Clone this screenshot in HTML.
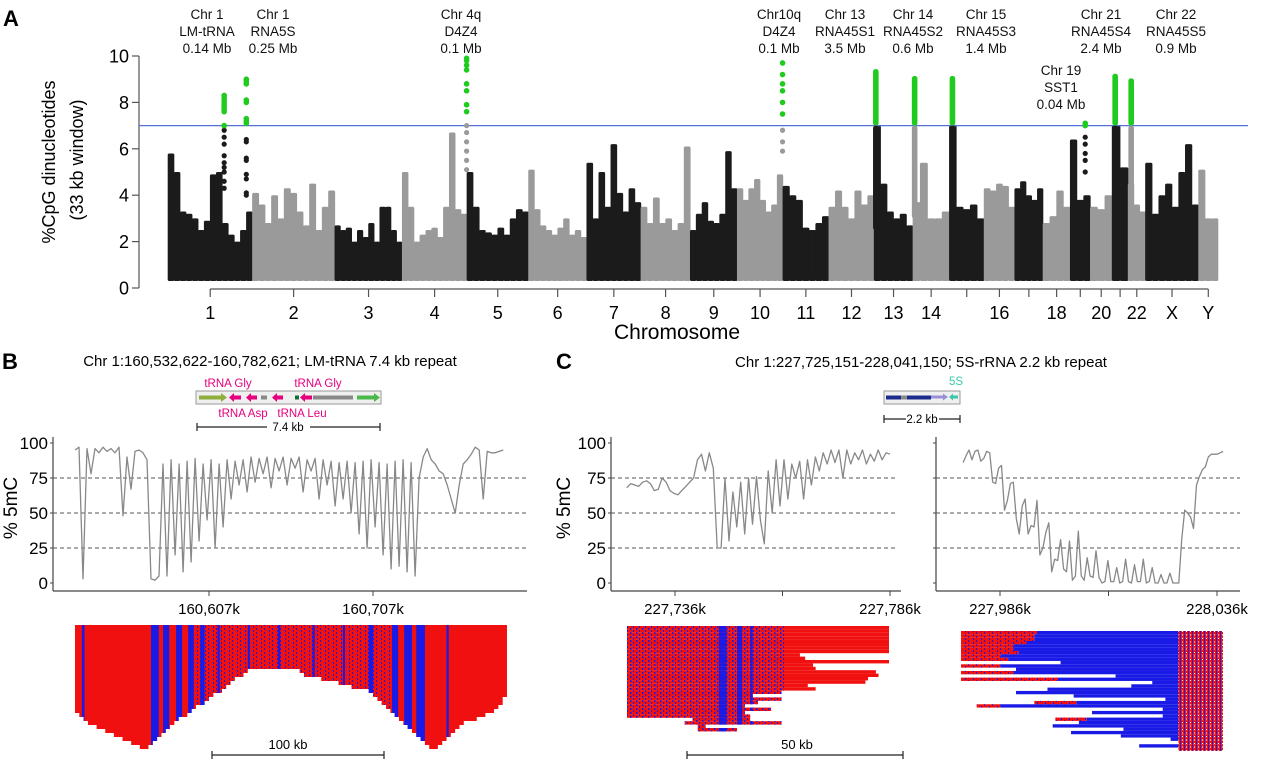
<!DOCTYPE html>
<html><head><meta charset="utf-8">
<style>
html,body{margin:0;padding:0;background:#fff;}
svg{display:block;font-family:"Liberation Sans",Arial,sans-serif;}
</style></head>
<body>
<svg id="fig" width="1280" height="767" viewBox="0 0 1280 767" xmlns="http://www.w3.org/2000/svg">
<defs>
<pattern id="speck" width="6" height="4" patternUnits="userSpaceOnUse"><rect x="0" y="0" width="1.5" height="2" fill="#1a1ae6"/><rect x="3" y="2" width="1" height="2" fill="#1a1ae6"/></pattern>
<pattern id="speck2" width="8" height="4" patternUnits="userSpaceOnUse"><rect x="0" y="0" width="1" height="2" fill="#1a1ae6"/><rect x="5" y="2" width="1" height="2" fill="#1a1ae6"/></pattern>
<pattern id="strip" width="4" height="3.5" patternUnits="userSpaceOnUse"><rect x="0" y="0" width="1" height="3.5" fill="#1a1ae6"/><rect x="2" y="1" width="1" height="1" fill="#fff"/></pattern>
</defs>

<!-- Panel A static -->
<text x="3" y="26" font-size="22" font-weight="bold">A</text>
<g font-size="18" text-anchor="middle">
<text transform="translate(55,162) rotate(-90)">%CpG dinucleotides</text>
<text transform="translate(83,160) rotate(-90)">(33 kb window)</text>
</g>
<text x="677" y="339" font-size="21" text-anchor="middle">Chromosome</text>
<g font-size="13.5" text-anchor="middle" fill="#111">
<g><text x="207" y="19">Chr 1</text><text x="207" y="36">LM-tRNA</text><text x="207" y="53">0.14 Mb</text></g>
<g><text x="273" y="19">Chr 1</text><text x="273" y="36">RNA5S</text><text x="273" y="53">0.25 Mb</text></g>
<g><text x="461" y="19">Chr 4q</text><text x="461" y="36">D4Z4</text><text x="461" y="53">0.1 Mb</text></g>
<g><text x="779" y="19">Chr10q</text><text x="779" y="36">D4Z4</text><text x="779" y="53">0.1 Mb</text></g>
<g><text x="845" y="19">Chr 13</text><text x="845" y="36">RNA45S1</text><text x="845" y="53">3.5 Mb</text></g>
<g><text x="913" y="19">Chr 14</text><text x="913" y="36">RNA45S2</text><text x="913" y="53">0.6 Mb</text></g>
<g><text x="986" y="19">Chr 15</text><text x="986" y="36">RNA45S3</text><text x="986" y="53">1.4 Mb</text></g>
<g><text x="1061" y="75">Chr 19</text><text x="1061" y="92">SST1</text><text x="1061" y="109">0.04 Mb</text></g>
<g><text x="1101" y="19">Chr 21</text><text x="1101" y="36">RNA45S4</text><text x="1101" y="53">2.4 Mb</text></g>
<g><text x="1176" y="19">Chr 22</text><text x="1176" y="36">RNA45S5</text><text x="1176" y="53">0.9 Mb</text></g>
</g>
<g id="gA"></g>

<!-- Panel B static -->
<text x="2" y="369" font-size="22" font-weight="bold">B</text>
<text x="270" y="366" font-size="15" text-anchor="middle">Chr 1:160,532,622-160,782,621;  LM-tRNA 7.4 kb repeat</text>
<g>
<rect x="196" y="391" width="185" height="13" fill="#efefef" stroke="#999" stroke-width="1"/>
<path d="M199 395.5h22v-2.5l6 4.5-6 4.5v-2.5h-22z" fill="#8fae3c"/>
<path d="M241 395.5h-7v-2.5l-5 4.5 5 4.5v-2.5h7z" fill="#e6007e"/>
<path d="M257 395.5h-6v-2.5l-5 4.5 5 4.5v-2.5h6z" fill="#e6007e"/>
<rect x="261" y="395.5" width="6" height="4" fill="#888"/>
<path d="M283 395.5h-6v-2.5l-5 4.5 5 4.5v-2.5h6z" fill="#e6007e"/>
<rect x="295" y="395.5" width="4" height="4" fill="#126b3a"/>
<path d="M312 395.5h-7v-2.5l-5 4.5 5 4.5v-2.5h7z" fill="#e6007e"/>
<rect x="313" y="395.5" width="40" height="4" fill="#888"/>
<path d="M357 395.5h17v-2.5l6 4.5-6 4.5v-2.5h-17z" fill="#4cb84c"/>
<g font-size="11.5" fill="#e6007e" text-anchor="middle"><text x="228" y="387">tRNA Gly</text><text x="318" y="387">tRNA Gly</text><text x="243" y="417">tRNA Asp</text><text x="302" y="417">tRNA Leu</text></g>
<path d="M197 427h70M310 427h70M197 423v8M380 423v8" stroke="#222" stroke-width="1.2"/>
<text x="288" y="431" font-size="11.5" text-anchor="middle">7.4 kb</text>
</g>
<text transform="translate(17,508) rotate(-90)" font-size="19" text-anchor="middle">% 5mC</text>
<g id="gB"></g>
<g>
<path d="M212 755h172M212 751v8M384 751v8" stroke="#222" stroke-width="1.2"/>
<text x="288" y="749" font-size="13" text-anchor="middle">100 kb</text>
</g>

<!-- Panel C static -->
<text x="556" y="369" font-size="22" font-weight="bold">C</text>
<text x="921" y="367" font-size="15" text-anchor="middle">Chr 1:227,725,151-228,041,150; 5S-rRNA 2.2 kb repeat</text>
<g>
<rect x="884" y="391" width="76" height="13" fill="#efefef" stroke="#999" stroke-width="1"/>
<rect x="886" y="395.5" width="45" height="4" fill="#1c2c8c"/>
<rect x="901" y="395.5" width="6" height="4" fill="#888"/>
<path d="M931 395.5h12v-2l5 3.5-5 3.5v-2h-12z" fill="#9b8fd6"/>
<path d="M958 395.5h-5v-2l-4 3.5 4 3.5v-2h5z" fill="#3cc8a8"/>
<text x="956" y="385" font-size="11.5" fill="#3cc8a8" text-anchor="middle">5S</text>
<path d="M884 419h22M939 419h21M884 415v8M960 415v8" stroke="#222" stroke-width="1.2"/>
<text x="922" y="423" font-size="11.5" text-anchor="middle">2.2 kb</text>
</g>
<text transform="translate(570,508) rotate(-90)" font-size="19" text-anchor="middle">% 5mC</text>
<g id="gC"></g>
<g>
<path d="M687 755h216M687 751v8M903 751v8" stroke="#222" stroke-width="1.2"/>
<text x="797" y="749" font-size="13" text-anchor="middle">50 kb</text>
</g>
</svg>

<script>
// ---------------- Panel A data ----------------
const chromNames=["1","2","3","4","5","6","7","8","9","10","11","12","13","14","15","16","17","18","19","20","21","22","X","Y"];
const chromTickLabels=["1","2","3","4","5","6","7","8","9","10","11","12","13","14","","16","","18","","20","","22","X","Y"];
const chromLenMb=[248,242,198,190,181,171,159,145,138,134,135,133,114,107,102,90,83,80,59,64,47,51,156,57];
const chromHeights=[
[5.8,5.0,3.3,3.2,3.0,2.5,2.9,4.9,5.0,2.8,2.3,2.0,2.5,3.3],
[4.1,3.6,2.8,4.0,3.0,4.3,4.1,3.3,2.7,4.5,2.5,3.5,4.2],
[2.7,2.5,2.6,2.0,2.5,2.2,2.8,2.0,3.5,3.5,2.5,2.0],
[5.0,3.5,2.0,2.3,2.5,2.6,2.2,3.5,6.7,3.4,3.2],
[5.0,3.5,2.5,2.4,2.3,2.6,2.3,3.0,3.4,3.3],
[5.1,3.4,2.7,2.5,2.3,2.6,3.0,2.3,2.5,2.2],
[5.4,3.0,5.0,3.5,6.2,4.1,3.3,4.3,3.7],
[3.5,2.8,3.9,2.8,3.0,2.5,2.8,6.1],
[2.5,3.2,3.7,2.9,2.8,3.2,5.9,4.3],
[4.3,3.8,4.3,4.7,3.8,3.3,3.6,4.9],
[4.4,4.0,3.8,2.6,2.5,2.8,3.1],
[3.5,4.2,3.5,3.0,4.2,3.6,4.0],
[7.0,4.5,3.3,3.0,3.2,2.7],
[3.7,5.4,3.0,3.0,3.3],
[7.0,3.5,3.4,3.6,3.0],
[4.3,4.2,4.5,4.4,3.5],
[4.3,4.6,4.0,3.8,4.3],
[2.8,3.1,4.2,3.5],
[6.4,3.8,4.0],
[3.5,3.4,4.0],
[7.0,5.2],
[4.5,3.6,3.3],
[5.4,3.2,4.0,4.5,3.5,5.0,6.2,3.6],
[5.1,3.0,3.0]];
const yTicksA=[0,2,4,6,8,10];
const thresholdA=7;
const repeatChrom=[0,0,3,9,12,13,14,18,20,21];
const repeatPosMb=[165,230,189,133,5,5,9,44,9,9];
const repeatTop=[8.3,9.0,9.9,9.7,9.35,9.05,9.05,7.1,9.15,8.95];
const repeatStemLow=[4.3,4.0,5.0,5.5,2.5,3.0,3.0,4.5,2.5,3.0];
const repeatSolid=[0,0,0,0,1,1,1,0,1,1];
const repeatGreenDots=[[7.0,7.6,7.7,7.8,7.9,8.0,8.1,8.2,8.3],[7.1,7.2,7.3,8.0,8.1,8.8,8.9,9.0],[7.6,7.9,8.5,8.8,9.4,9.6,9.8,9.9],[7.5,8.0,8.5,8.8,9.2,9.7],[],[],[],[7.0,7.1],[],[]];
const repeatStemDots=[[6.8,6.5,6.2,5.7,5.4,5.2,5.0,4.6,4.3],[6.4,6.3,5.6,5.5,4.9,4.7,4.1,4.0],[7.0,6.7,6.3,5.9,5.5,5.1],[6.8,6.3,5.9],[],[],[],[6.5,6.2,5.8,5.5,5.0],[],[]];

// ---------------- Panel B/C data ----------------
const yTicksM=[0,25,50,75,100];
const bStartKb=525.3, bStepKb=2.44;
const bValues=[95,97,3,96,78,96,93,97,94,96,93,97,48,90,67,94,95,93,88,3,2,5,85,5,88,20,85,8,87,15,89,30,85,45,88,25,85,40,88,60,87,70,88,65,90,72,89,78,90,68,89,80,90,70,89,82,90,65,88,80,89,60,88,70,87,55,86,60,87,50,86,35,87,25,88,40,86,20,85,10,87,12,88,8,86,5,75,90,96,88,85,80,78,70,60,50,70,85,88,92,97,95,60,94,93,93,94,95];
const bTickKb=[607,707];
const bTickLabels=["160,607k","160,707k"];
const cLeftStartKb=724.8, cLeftEndKb=786;
const cLeftValues=[68,71,70,69,72,73,71,66,67,75,72,66,64,63,66,69,72,75,88,92,80,93,82,25,25,75,30,65,40,72,35,75,42,76,45,28,80,50,88,55,88,60,85,75,87,60,88,70,90,80,93,85,95,86,95,75,95,85,93,88,95,85,92,87,95,88,93,92];
const cLeftTickKb=[736,761,786];
const cLeftTickLabels=["227,736k","","227,786k"];
const cRightStartKb=977.5, cRightEndKb=1037.4;
const cRightValues=[86,91,95,88,94,95,87,89,94,93,72,71,82,84,52,59,71,72,46,35,55,60,35,41,40,59,20,25,36,43,8,17,16,31,10,8,30,2,5,37,5,2,18,5,4,23,4,0,1,16,1,1,11,0,1,17,1,0,13,1,1,17,0,1,11,0,0,6,0,0,7,0,0,0,31,52,50,47,39,70,76,81,83,90,92,92,92,93,94];
const cRightTickKb=[986,1011,1036];
const cRightTickLabels=["227,986k","","228,036k"];

// heatmap rows
const hbRows=[[0,.5,.5,1],[0,.5,.5,1],[0,.5,.5,1],[0,.5,.5,1],[0,.5,.5,1],[0,.5,.5,1],[0,.5,.5,1],[0,.5,.5,1],[0,.5,.5,1],[0,.5,.5,1],[0,.5,.5,1],
[0,.40,.52,1],[0,.39,.53,1],[0,.37,.57,1],[0,.36,.61,1],[0,.35,.64,1],[0,.34,.68,1],[0,.32,.69,1],[0,.31,.70,.99],[0,.30,.71,.99],[0,.28,.72,.98],[0,.27,.73,.97],[.01,.26,.74,.95],[.02,.24,.75,.93],[.03,.23,.76,.90],[.05,.22,.77,.89],[.07,.21,.78,.88],[.09,.20,.79,.87],[.11,.19,.80,.86],[.13,.18,.81,.85],[.15,.17,.82,.84]];
const hbBlue=[[.016,.022],[.176,.194],[.204,.218],[.234,.248],[.262,.275],[.29,.30],[.33,.335],[.40,.405],[.47,.475],[.55,.555],[.62,.625],[.68,.69],[.734,.748],[.762,.78],[.79,.81],[.86,.865]];
const hbSpeck=[[.28,.74]];
const hcLRows=[[0,1],[0,1],[0,1],[0,1],[0,1],[0,1],[0,1],[0,1],[0,.66],[0,.68],[0,1],[0,.71],[0,.72],[0,.95],[0,.96],[0,.92],[0,.91],[0,.69],[0,.72],[0,.59],[0,.48],[0,.59],[0,.50],[0,.45],[0,.55],[0,.45],[0,.47],[.25,.47],[.22,.59],[.27,.30],[.27,.42]];
const hcLBlue=[[.35,.38],[.42,.44],[.47,.48]];
const hcLSpeck=[[0,.33],[.33,.6]];
const hcRRows=[[0,.29],[0,.28],[0,.28],[0,.25],[0,.20],[0,.20],[0,.22],[0,.15],[0,.18],[.38,.38],[0,.15],[.21,.21],[0,.20],[.59,.59],[0,.37],[.73,.73],[.65,.65],[.33,.33],[.21,.21],[.43,.43],[.78,.78],[.28,.44],[.06,.15],[.77,.77],[.50,.50],[.77,.77],[.36,.48],[.45,.45],[.35,.35],[.62,.62],[.42,.42],[.61,.61],[.80,.80],[.84,.84],[.68,.68],[.83,.83]];
const hcRStripStart=.83;

// ---------------- helpers ----------------
const NS="http://www.w3.org/2000/svg";
function mk(tag,attrs,parent){const e=document.createElementNS(NS,tag);for(const k in attrs)e.setAttribute(k,attrs[k]);parent.appendChild(e);return e;}
const gA=document.getElementById('gA'),gB=document.getElementById('gB'),gC=document.getElementById('gC');
const BLACK="#1b1b1b",GRAY="#9a9a9a",GREEN="#1ecb1e",RED="#f01010",BLUE="#1a1ae6";

// ---------------- Panel A ----------------
const totalMb=chromLenMb.reduce((a,b)=>a+b,0);
const aX0=168,aX1=1218;
const mbScale=(aX1-aX0)/totalMb;
const cumMb=[];let acc=0;for(const L of chromLenMb){cumMb.push(acc);acc+=L;}
function xA(c,mb){return aX0+(cumMb[c]+mb)*mbScale;}
function yA(v){return 288-v*23.2;}
function chromColor(c){return c%2===0?BLACK:GRAY;}

let ax=mk('line',{x1:139,y1:yA(10),x2:139,y2:yA(0),stroke:'#555','stroke-width':1.2},gA);


for(const t of yTicksA){
  const tk=mk('line',{x1:132,y1:yA(t),x2:139,y2:yA(t),stroke:'#555','stroke-width':1.2},gA);
  
  
  const tl=mk('text',{x:129,y:yA(t)+6.5,'font-size':18,'text-anchor':'end'},gA);
  tl.textContent=String(t);
  
  
}
chromHeights.forEach((hs,c)=>{
  const w=chromLenMb[c]/hs.length;
  hs.forEach((h,i)=>{
    const x1=xA(c,i*w),x2=xA(c,(i+1)*w);
    const r=mk('rect',{x:x1-0.3,y:yA(h),width:x2-x1+0.6,height:yA(0.3)-yA(h),fill:chromColor(c),rx:1.5},gA);
    
    
  });
});
const th=mk('line',{x1:139,y1:yA(thresholdA),x2:1248,y2:yA(thresholdA),stroke:'#5470d6','stroke-width':1.2},gA);


repeatChrom.forEach((c,k)=>{
  const x=xA(c,repeatPosMb[k]);
  const col=chromColor(c);
  if(repeatSolid[k]){
    const s=mk('rect',{x:x-2.8,y:yA(thresholdA),width:5.6,height:yA(repeatStemLow[k])-yA(thresholdA),fill:col,rx:2.5},gA);
    
    
    const g=mk('rect',{x:x-2.8,y:yA(repeatTop[k])-2,width:5.6,height:yA(thresholdA)-yA(repeatTop[k])+2,fill:GREEN,rx:2.5},gA);
    
    
  }
  repeatStemDots[k].forEach(v=>{
    const d=mk('circle',{cx:x,cy:yA(v),r:2.6,fill:col},gA);
    
    
  });
  repeatGreenDots[k].forEach(v=>{
    const d=mk('circle',{cx:x,cy:yA(v),r:2.8,fill:GREEN},gA);
    
    
  });
});
const xa=mk('line',{x1:xA(0,chromLenMb[0]/2),y1:289,x2:xA(23,chromLenMb[23]/2),y2:289,stroke:'#555','stroke-width':1.2},gA);


chromLenMb.forEach((L,c)=>{
  const x=xA(c,L/2);
  const tk=mk('line',{x1:x,y1:289,x2:x,y2:297,stroke:'#555','stroke-width':1.2},gA);
  
  
  if(chromTickLabels[c]){
    const tl=mk('text',{x:x,y:319,'font-size':18,'text-anchor':'middle'},gA);
    tl.textContent=chromTickLabels[c];
    
    
  }
});

// ---------------- Methylation plots ----------------
function yM(v){return 583-v*1.40;}
function methPlot(g,axX,axEnd,gridEnd,showLabels,xOf,startKb,stepKb,vals,tickKb,tickLabels,name){
  const a=mk('line',{x1:axX,y1:437,x2:axX,y2:591,stroke:'#444','stroke-width':1.2},g);
  
  
  const b=mk('line',{x1:axX,y1:591,x2:axEnd,y2:591,stroke:'#444','stroke-width':1.2},g);
  
  
  for(const t of yTicksM){
    const tk=mk('line',{x1:axX-3,y1:yM(t),x2:axX,y2:yM(t),stroke:'#444','stroke-width':1},g);
    
    
    if(t>0&&t<100){
      const gl=mk('line',{x1:axX,y1:yM(t),x2:gridEnd,y2:yM(t),stroke:'#555','stroke-width':1,'stroke-dasharray':'4,3'},g);
      
      
    }
    if(showLabels){
      const tl=mk('text',{x:axX-5,y:yM(t)+6,'font-size':17,'text-anchor':'end'},g);
      tl.textContent=String(t);
      
      
    }
  }
  tickKb.forEach((k,i)=>{
    const x=xOf(k);
    const tk=mk('line',{x1:x,y1:591,x2:x,y2:596,stroke:'#444','stroke-width':1},g);
    
    
    if(tickLabels[i]){
      const tl=mk('text',{x:x,y:614,'font-size':15,'text-anchor':'middle'},g);
      tl.textContent=tickLabels[i];
      
      
    }
  });
  const pts=vals.map((v,i)=>xOf(startKb+i*stepKb).toFixed(1)+','+yM(v).toFixed(1)).join(' ');
  const pl=mk('polyline',{points:pts,fill:'none',stroke:'#888','stroke-width':1.3,'stroke-linejoin':'round'},g);
  
  
}
methPlot(gB,53,527,527,true,kb=>209+(kb-607)*1.64,bStartKb,bStepKb,bValues,bTickKb,bTickLabels,'plot-b');
methPlot(gC,611,901,896,true,kb=>675+(kb-736)*4.3,cLeftStartKb,(cLeftEndKb-cLeftStartKb)/(cLeftValues.length-1),cLeftValues,cLeftTickKb,cLeftTickLabels,'plot-c-left');
methPlot(gC,936,1240,1240,false,kb=>1000+(kb-986)*4.34,cRightStartKb,(cRightEndKb-cRightStartKb)/(cRightValues.length-1),cRightValues,cRightTickKb,cRightTickLabels,'plot-c-right');

// ---------------- Heatmaps ----------------
function overlap(a,b,c,d){const s=Math.max(a,c),e=Math.min(b,d);return e>s?[s,e]:null;}
function drawSeg(g,X0,W,y,h,s,e,blue,speck,name,pat){
  if(e<=s)return;
  const r=mk('rect',{x:X0+s*W,y:y,width:(e-s)*W,height:h,fill:RED},g);
  
  
  speck.forEach(sp=>{const o=overlap(s,e,sp[0],sp[1]);if(o){
    const q=mk('rect',{x:X0+o[0]*W,y:y,width:(o[1]-o[0])*W,height:h,fill:'url(#'+pat+')'},g);
    
    }});
  blue.forEach(bl=>{const o=overlap(s,e,bl[0],bl[1]);if(o){
    const q=mk('rect',{x:X0+o[0]*W,y:y,width:(o[1]-o[0])*W,height:h,fill:BLUE},g);
    
    }});
}
const hbX=75,hbW=432,hbY=625,hbH=4;
hbRows.forEach((r,i)=>{
  const y=hbY+i*hbH;
  drawSeg(gB,hbX,hbW,y,hbH,r[0],r[1],hbBlue,hbSpeck,'heatmap-b','speck2');
  drawSeg(gB,hbX,hbW,y,hbH,r[2],r[3],hbBlue,hbSpeck,'heatmap-b','speck2');
});
const hlX=627,hlW=262,hlY=626,hlH=3.4;
hcLRows.forEach((r,i)=>{
  drawSeg(gC,hlX,hlW,hlY+i*hlH,hlH,r[0],r[1],hcLBlue,hcLSpeck,'heatmap-c-left','speck');
});
const hrX=961,hrW=262,hrY=631,hrH=3.33;
hcRRows.forEach((r,i)=>{
  const y=hrY+i*hrH;
  if(r[1]>r[0]){
    const a=mk('rect',{x:hrX+r[0]*hrW,y:y,width:(r[1]-r[0])*hrW,height:hrH,fill:RED},gC);
    
    
    const sp=mk('rect',{x:hrX+r[0]*hrW,y:y,width:(r[1]-r[0])*hrW,height:hrH,fill:'url(#speck2)'},gC);
    
    
  }
  const b=mk('rect',{x:hrX+r[1]*hrW,y:y,width:(hcRStripStart-r[1])*hrW,height:hrH,fill:BLUE},gC);
  
  
  const s=mk('rect',{x:hrX+hcRStripStart*hrW,y:y,width:(1-hcRStripStart)*hrW,height:hrH,fill:RED},gC);
  
  
  const s2=mk('rect',{x:hrX+hcRStripStart*hrW,y:y,width:(1-hcRStripStart)*hrW,height:hrH,fill:'url(#strip)'},gC);
  
  
});
</script>
</body></html>
